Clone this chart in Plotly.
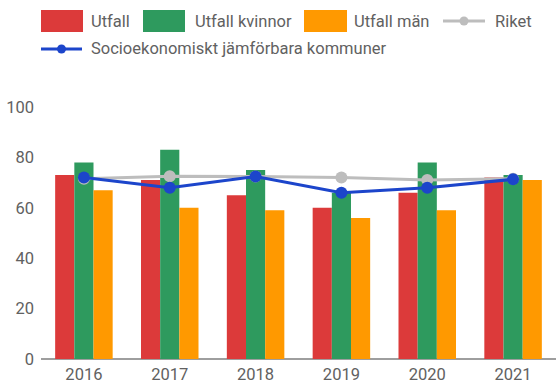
import plotly.graph_objects as go

# Data
years = ["2016", "2017", "2018", "2019", "2020", "2021"]
utfall = [73, 71, 65, 60, 66, 72]
utfall_kvinnor = [78, 83, 75, 66, 78, 73]
utfall_man = [67, 60, 59, 56, 59, 71]
riket = [71.5, 72.5, 72.4, 72, 71, 71.5]
jamforbara = [72, 68, 72.4, 66, 68, 71.3]

series_names = ["Utfall", "Utfall kvinnor", "Utfall män", "Riket",
                "Socioekonomiskt jämförbara kommuner"]
y_ticks = [0, 20, 40, 60, 80, 100]

RED = "#DC3A3A"
GREEN = "#2E9A5E"
ORANGE = "#FF9900"
GRAY = "#BDBDBD"
BLUE = "#1C45CB"
TEXT = "#616161"
FONT = "Roboto"
FS = 16.5

W, H = 556, 383
M_L, M_R, M_T, M_B = 41, 0, 107, 24
PW, PH = W - M_L - M_R, H - M_T - M_B

fig = go.Figure()
for vals, col, name in [(utfall, RED, series_names[0]),
                        (utfall_kvinnor, GREEN, series_names[1]),
                        (utfall_man, ORANGE, series_names[2])]:
    fig.add_trace(go.Bar(x=years, y=vals, name=name, marker_color=col,
                         marker_line_width=0, showlegend=False))

fig.add_trace(go.Scatter(x=years, y=riket, name=series_names[3], mode="lines+markers",
                         line=dict(color=GRAY, width=3),
                         marker=dict(color=GRAY, size=12), showlegend=False,
                         cliponaxis=False))
fig.add_trace(go.Scatter(x=years, y=jamforbara, name=series_names[4], mode="lines+markers",
                         line=dict(color=BLUE, width=3),
                         marker=dict(color=BLUE, size=12), showlegend=False,
                         cliponaxis=False))


def px_x(px):
    return (px - M_L) / PW


def px_y(py):
    return (H - M_B - py) / PH


shapes = []
annotations = []

# Legend, row 1: colour swatches for the bar series
for x0, x1, tx, col, label in [(41, 83, 89, RED, series_names[0]),
                               (143, 185, 193, GREEN, series_names[1]),
                               (304, 347, 352, ORANGE, series_names[2])]:
    shapes.append(dict(type="rect", xref="paper", yref="paper",
                       x0=px_x(x0), x1=px_x(x1), y0=px_y(32), y1=px_y(10),
                       fillcolor=col, line_width=0))
    annotations.append(dict(text=label, xref="paper", yref="paper",
                            x=px_x(tx), y=px_y(21), xanchor="left", yanchor="middle",
                            showarrow=False, font=dict(family=FONT, size=FS, color=TEXT)))

# Legend: line series
for x0, x1, tx, cy, col, label in [(443, 485, 493, 21, GRAY, series_names[3]),
                                   (41, 82, 89, 49, BLUE, series_names[4])]:
    shapes.append(dict(type="line", xref="paper", yref="paper",
                       x0=px_x(x0), x1=px_x(x1), y0=px_y(cy), y1=px_y(cy),
                       line=dict(color=col, width=3)))
    cx = (x0 + x1) / 2
    shapes.append(dict(type="circle", xref="paper", yref="paper",
                       x0=px_x(cx - 4.5), x1=px_x(cx + 4.5),
                       y0=px_y(cy + 4.5), y1=px_y(cy - 4.5),
                       fillcolor=col, line_width=0))
    annotations.append(dict(text=label, xref="paper", yref="paper",
                            x=px_x(tx), y=px_y(cy), xanchor="left", yanchor="middle",
                            showarrow=False, font=dict(family=FONT, size=FS, color=TEXT)))

fig.update_layout(
    width=W, height=H,
    margin=dict(l=M_L, r=M_R, t=M_T, b=M_B, pad=0),
    paper_bgcolor="white", plot_bgcolor="white",
    barmode="group", bargap=0.33, bargroupgap=0,
    shapes=shapes, annotations=annotations,
    showlegend=False,
    font=dict(family=FONT, size=FS, color=TEXT),
    xaxis=dict(type="category", showgrid=False, showline=False, ticks="",
               ticklabelstandoff=3,
               tickfont=dict(family=FONT, size=FS, color=TEXT)),
    yaxis=dict(range=[0, 100], tickvals=y_ticks, showgrid=False, zeroline=True,
               zerolinecolor="#9E9E9E", zerolinewidth=1.5, showline=False, ticks="",
               ticklabelstandoff=6,
               tickfont=dict(family=FONT, size=FS, color=TEXT)),
)

fig.write_html("out.html")
